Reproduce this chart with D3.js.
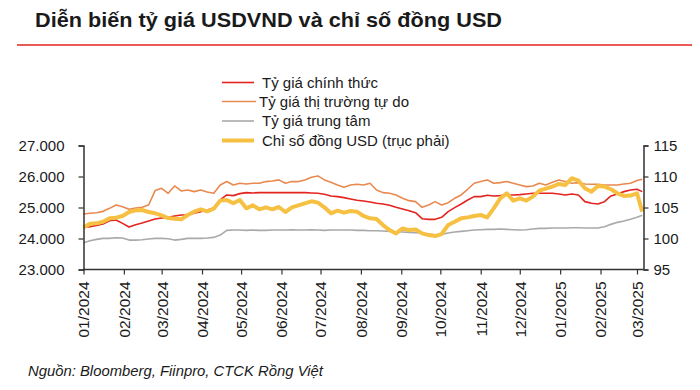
<!DOCTYPE html>
<html><head><meta charset="utf-8">
<script src="https://cdn.jsdelivr.net/npm/d3@7"></script>
<style>
html,body{margin:0;padding:0;background:#fff;}
svg{display:block;}
text{font-family:"Liberation Sans",Arial,sans-serif;fill:#1a1a1a;}
</style></head>
<body>
<svg id="c" width="700" height="390"></svg>
<script>
const dates = ["2024-01-01","2024-01-06","2024-01-11","2024-01-16","2024-01-21","2024-01-26","2024-01-31","2024-02-05","2024-02-10","2024-02-15","2024-02-20","2024-02-25","2024-03-01","2024-03-06","2024-03-11","2024-03-16","2024-03-21","2024-03-26","2024-03-31","2024-04-05","2024-04-10","2024-04-15","2024-04-20","2024-04-25","2024-04-30","2024-05-05","2024-05-10","2024-05-15","2024-05-20","2024-05-25","2024-05-30","2024-06-04","2024-06-09","2024-06-14","2024-06-19","2024-06-24","2024-06-29","2024-07-04","2024-07-09","2024-07-14","2024-07-19","2024-07-24","2024-07-29","2024-08-03","2024-08-08","2024-08-13","2024-08-18","2024-08-23","2024-08-28","2024-09-02","2024-09-07","2024-09-12","2024-09-17","2024-09-22","2024-09-27","2024-10-02","2024-10-07","2024-10-12","2024-10-17","2024-10-22","2024-10-27","2024-11-01","2024-11-06","2024-11-11","2024-11-16","2024-11-21","2024-11-26","2024-12-01","2024-12-06","2024-12-11","2024-12-16","2024-12-21","2024-12-26","2024-12-31","2025-01-05","2025-01-10","2025-01-15","2025-01-20","2025-01-25","2025-01-30","2025-02-04","2025-02-09","2025-02-14","2025-02-19","2025-02-24","2025-03-01","2025-03-05"];

// Tỷ giá chính thức (VND)
const official = [24359,24380,24424,24467,24575,24596,24488,24370,24445,24499,24564,24628,24661,24682,24725,24758,24758,24812,24866,24919,24984,25243,25405,25383,25448,25480,25469,25480,25480,25480,25480,25480,25480,25480,25480,25469,25458,25426,25372,25351,25318,25275,25232,25211,25178,25135,25114,25070,25006,24952,24898,24833,24639,24618,24618,24682,24866,24995,25114,25243,25351,25351,25394,25372,25383,25405,25405,25415,25437,25458,25458,25458,25458,25437,25405,25437,25405,25189,25135,25114,25189,25372,25437,25512,25566,25588,25512];

// Tỷ giá thị trường tự do (VND)
const freeMarket = [24790,24812,24833,24876,24973,25081,25027,24941,24984,25006,25081,25545,25620,25458,25696,25534,25566,25512,25566,25502,25458,25728,25836,25728,25782,25760,25782,25782,25836,25857,25890,25782,25836,25836,25890,25976,26019,25890,25814,25728,25653,25728,25750,25728,25782,25566,25480,25458,25405,25297,25221,25189,25006,25081,25189,25081,25157,25297,25405,25588,25782,25836,25890,25782,25803,25836,25782,25728,25674,25696,25782,25728,25814,25890,25836,25782,25803,25760,25750,25750,25728,25728,25728,25760,25782,25868,25911];

// Tỷ giá trung tâm (VND)
const central = [23863,23928,23971,24003,24003,24025,24014,23949,23949,23960,23982,24003,24003,23992,23949,23971,24003,24003,24003,24014,24036,24111,24262,24273,24273,24262,24273,24262,24262,24273,24273,24273,24283,24273,24273,24283,24273,24262,24273,24273,24273,24273,24262,24262,24251,24251,24240,24230,24219,24208,24197,24186,24176,24143,24122,24133,24176,24208,24230,24251,24273,24283,24294,24294,24305,24294,24283,24273,24283,24305,24327,24327,24337,24337,24337,24348,24348,24337,24337,24337,24380,24456,24521,24564,24618,24682,24747];

// Chỉ số đồng USD (trục phải)
const dxy = [101.79,102.39,102.44,102.71,103.25,103.36,103.63,104.27,104.54,104.60,104.27,104.06,103.73,103.30,103.20,103.09,103.79,104.33,104.71,104.38,104.81,106.11,106.21,105.68,106.21,104.87,105.35,104.71,105.03,104.71,105.08,104.27,105.03,105.35,105.68,106.00,105.78,105.03,104.06,104.49,104.17,104.44,104.33,103.63,103.25,103.14,102.17,101.36,100.82,101.63,101.36,101.47,100.82,100.55,100.39,100.72,102.17,102.71,103.25,103.41,103.63,103.79,103.41,104.87,106.48,107.29,106.11,106.48,106.11,106.75,107.72,108.05,108.37,108.80,108.64,109.72,109.34,108.10,107.56,108.48,108.37,107.94,107.29,106.86,106.92,107.29,104.33];

const xTickLabels = ["01/2024","02/2024","03/2024","04/2024","05/2024","06/2024","07/2024","08/2024","09/2024","10/2024","11/2024","12/2024","01/2025","02/2025","03/2025"];
const leftTicks = [23000,24000,25000,26000,27000];
const rightTicks = [95,100,105,110,115];

const seriesNames = ["Tỷ giá chính thức","Tỷ giá thị trường tự do","Tỷ giá trung tâm","Chỉ số đồng USD (trục phải)"];
const seriesColors = ["#e3241f","#e8894f","#a9a9a9","#f6c143"];
const seriesWidths = [1.6,1.6,1.6,4];

const svg = d3.select("#c");
const parse = d3.timeParse("%Y-%m-%d");
const tDates = dates.map(parse);
const tickDates = xTickLabels.map(s => d3.timeParse("%m/%Y")(s));

const x = d3.scaleTime().domain([parse("2024-01-01"), parse("2025-03-06")]).range([83.5, 643.5]);
const yL = d3.scaleLinear().domain([23000,27000]).range([269.5,145.5]);
const yR = d3.scaleLinear().domain([95,115]).range([269.5,145.5]);

const loc = d3.formatLocale({decimal:",",thousands:".",grouping:[3],currency:["",""]});
const fmt = loc.format(",d");

// Title
svg.append("text").attr("x",35).attr("y",26.5)
  .attr("font-family","'Open Sans',sans-serif").attr("font-weight","bold").attr("font-size",20.5)
  .attr("textLength",467).attr("lengthAdjust","spacingAndGlyphs")
  .text("Diễn biến tỷ giá USDVND và chỉ số đồng USD");
svg.append("line").attr("x1",17).attr("x2",692).attr("y1",45).attr("y2",45)
  .attr("stroke","#e3241f").attr("stroke-width",1.5);

// lines
const mk = (vals, ys) => d3.line().x((d,i)=>x(tDates[i])).y(d=>ys(d))(vals);
const order = [2,1,0,3];
const vals = [official, freeMarket, central, dxy];
const scales = [yL,yL,yL,yR];
order.forEach(k=>{
  svg.append("path").attr("d",mk(vals[k],scales[k])).attr("fill","none")
    .attr("stroke",seriesColors[k]).attr("stroke-width",seriesWidths[k])
    .attr("stroke-linejoin","round");
});

// axes
const axCol = "#333";
const gL = svg.append("g").attr("transform","translate(83.5,0)")
  .call(d3.axisLeft(yL).tickValues(leftTicks).tickFormat(fmt).tickSize(5).tickPadding(14));
const gR = svg.append("g").attr("transform","translate(643.5,0)")
  .call(d3.axisRight(yR).tickValues(rightTicks).tickSize(5).tickPadding(5));
const gB = svg.append("g").attr("transform","translate(0,269.5)")
  .call(d3.axisBottom(x).tickValues(tickDates).tickFormat(d3.timeFormat("%m/%Y")).tickSize(5).tickPadding(0));
[gL,gR,gB].forEach(g=>{
  g.select(".domain").attr("stroke",axCol).attr("stroke-width",1.5);
  g.selectAll(".tick line").attr("stroke",axCol).attr("stroke-width",1.2);
  g.selectAll("text").attr("font-size",15).attr("fill","#1a1a1a").attr("font-family","'Liberation Sans',Arial,sans-serif");
});
gB.select(".domain").attr("d","M83.5,0H643.5");
gB.selectAll(".tick text").attr("transform","rotate(-90)").attr("text-anchor","end")
  .attr("x",-12).attr("y",0).attr("dy","0.35em").attr("font-size",15.5);

// legend
const lg = svg.append("g");
const ly = [82.5,101.5,121,140.5];
const lx1 = [222,222,222,222], lx2 = [254,256,254,254];
seriesNames.forEach((n,i)=>{
  lg.append("line").attr("x1",lx1[i]).attr("x2",lx2[i]).attr("y1",ly[i]).attr("y2",ly[i])
    .attr("stroke",seriesColors[i]).attr("stroke-width",i===3?4:1.6);
  lg.append("text").attr("x",i===1?259:262).attr("y",ly[i]).attr("dy","0.35em")
    .attr("font-size",15).text(n);
});

// source
svg.append("text").attr("x",28).attr("y",376)
  .attr("font-style","italic").attr("font-size",15)
  .attr("textLength",295).attr("lengthAdjust","spacingAndGlyphs")
  .text("Nguồn: Bloomberg, Fiinpro, CTCK Rồng Việt");
</script>
</body></html>
